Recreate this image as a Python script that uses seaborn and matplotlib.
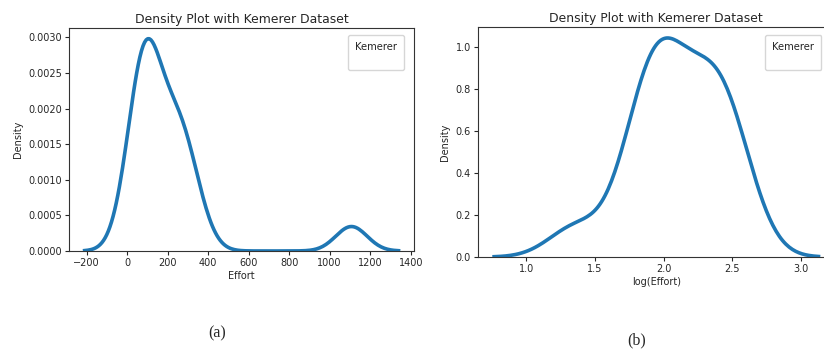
import numpy as np
import matplotlib
matplotlib.use('Agg')
import matplotlib.pyplot as plt
from matplotlib.lines import Line2D
import pandas as pd
import seaborn as sns

# Kemerer dataset, effort (man-months) of the 15 projects
project = list(range(1, 16))
effort = [287.0, 82.5, 1107.31, 86.9, 336.3, 84.0, 23.2, 130.3,
          116.0, 72.0, 258.7, 230.7, 157.0, 246.9, 69.9]

df = pd.DataFrame({'Project': project, 'Effort': effort})
# panel (b): log of effort, outlier project left out
df_log = df[df['Effort'] < 1000].copy()
df_log['log(Effort)'] = np.log10(df_log['Effort'])


def normal_reference_bw(kde):
    # old statsmodels style bandwidth (min of sd and iqr)
    x = kde.dataset[0]
    sd = x.std(ddof=1)
    iqr = np.subtract(*np.percentile(x, [75, 25]))
    return 1.059 * min(sd, iqr / 1.349) * len(x) ** -0.2 / sd


plt.rcParams['font.family'] = ['DejaVu Sans']
plt.rcParams['axes.edgecolor'] = '#333333'
plt.rcParams['text.color'] = '#262626'
plt.rcParams['axes.labelcolor'] = '#262626'
plt.rcParams['xtick.color'] = '#262626'
plt.rcParams['ytick.color'] = '#262626'

fig = plt.figure(figsize=(8.24, 3.56), dpi=100)
ax1 = fig.add_axes([0.0837, 0.295, 0.419, 0.626])
ax2 = fig.add_axes([0.580, 0.278, 0.433, 0.646])

legend_at = {ax1: (348 / 824, 1 - 35 / 356), ax2: (765 / 824, 1 - 35 / 356)}

for ax, data, col, xlab in [(ax1, df, 'Effort', 'Effort'),
                            (ax2, df_log, 'log(Effort)', 'log(Effort)')]:
    sns.kdeplot(data=data, x=col, ax=ax, bw_method=normal_reference_bw,
                color='#1f77b4', linewidth=2.6)
    ax.set_title('Density Plot with Kemerer Dataset', fontsize=8.9, pad=4)
    ax.set_xlabel(xlab, fontsize=7, labelpad=2)
    ax.set_ylabel('Density', fontsize=7, labelpad=4)
    ax.tick_params(labelsize=7, length=3, pad=2)
    ax.legend(handles=[Line2D([], [], alpha=0)], labels=[''], title='Kemerer',
              loc='upper left', bbox_to_anchor=legend_at[ax],
              bbox_transform=fig.transFigure, fontsize=6, title_fontsize=7.2,
              handlelength=0, borderpad=0.85, labelspacing=0.2,
              borderaxespad=0)

ax1.set_xticks(range(-200, 1401, 200))
ax1.set_yticks(np.arange(0, 0.00301, 0.0005))
ax1.set_yticklabels(['%.4f' % v for v in np.arange(0, 0.00301, 0.0005)])
ax2.set_xticks([1.0, 1.5, 2.0, 2.5, 3.0])
ax2.set_yticks([0.0, 0.2, 0.4, 0.6, 0.8, 1.0])

fig.text(0.264, 0.052, '(a)', fontsize=11.5, family='Liberation Serif', ha='center')
fig.text(0.772, 0.034, '(b)', fontsize=11.5, family='Liberation Serif', ha='center')

fig.savefig('out.png', dpi=100, facecolor='white')
